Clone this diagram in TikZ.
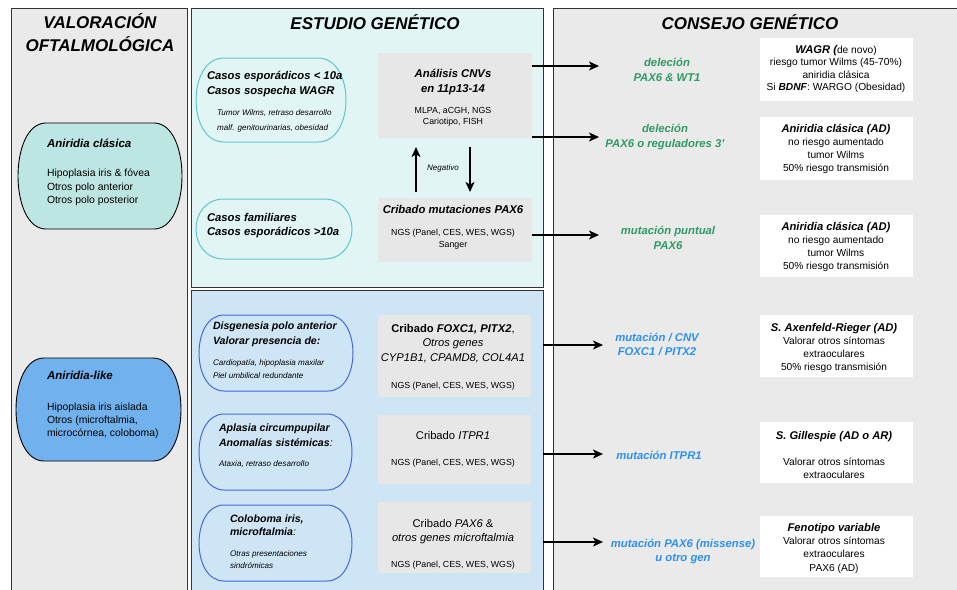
\documentclass[tikz,border=0pt]{standalone}
\usepackage{fontspec}
\setmainfont{Liberation Sans}
\usetikzlibrary{arrows.meta,calc}

\definecolor{panelgray}{HTML}{EAEAEA}
\definecolor{paneltop}{HTML}{E2F5F5}
\definecolor{panelbot}{HTML}{CEE5F6}
\definecolor{boxgray}{HTML}{E7E7E7}
\definecolor{tealfill}{HTML}{BDE5E2}
\definecolor{bluefill}{HTML}{71B2EE}
\definecolor{cyanline}{HTML}{5CC6D0}
\definecolor{blueline}{HTML}{4766DC}
\definecolor{greentxt}{HTML}{2E9A64}
\definecolor{bluetxt}{HTML}{2D90F0}
\definecolor{border}{HTML}{333333}

\newcommand\mystad[3][]{%
  \path[#1] ($(#2.north west)+(#3,0)$) -- ($(#2.north east)+(-#3,0)$)
    .. controls ($(#2.north east)+(#3/3,0)$) and ($(#2.south east)+(#3/3,0)$) .. ($(#2.south east)+(-#3,0)$)
    -- ($(#2.south west)+(#3,0)$)
    .. controls ($(#2.south west)+(-#3/3,0)$) and ($(#2.north west)+(-#3/3,0)$) .. ($(#2.north west)+(#3,0)$) -- cycle;}

\tikzset{
  boxn/.style={inner sep=0pt, outer sep=0pt, anchor=north west},
  panel/.style={boxn, draw=border, line width=1pt},
  ctxt/.style={inner sep=0pt, outer sep=0pt, anchor=base, align=center},
  ltxt/.style={inner sep=0pt, outer sep=0pt, anchor=base west, align=left},
  ttl/.style={font=\fontsize{17}{23}\selectfont\bfseries\itshape},
  hb/.style={font=\fontsize{11.3}{15}\selectfont\bfseries\itshape},
  smi/.style={font=\fontsize{8.1}{15}\selectfont\itshape},
  ngs/.style={font=\fontsize{8.8}{11.5}\selectfont},
  rb/.style={font=\fontsize{10.2}{13}\selectfont},
  arr/.style={line width=1.1pt, -{Stealth[length=10pt,width=9pt,inset=2.5pt]}},
}

\begin{document}
\begin{tikzpicture}[x=1pt,y=-1pt]
\clip (0,0) rectangle (957,589);
\fill[white] (0,0) rectangle (957,589);

% multi-line text nodes are placed at the baseline of their LAST line

% ---------------- panels
\node[panel, fill=panelgray, minimum width=176pt, minimum height=600pt] (pleft) at (11,8) {};
\node[panel, fill=paneltop, minimum width=352pt, minimum height=279pt] (ptop) at (191,8) {};
\node[panel, fill=panelbot, minimum width=352pt, minimum height=310pt] (pbot) at (191,290) {};
\node[panel, fill=panelgray, minimum width=450pt, minimum height=600pt] (pright) at (553,8) {};

\node[ctxt, ttl] (tleft) at (100,51) {VALORACIÓN\\OFTALMOLÓGICA};
\node[ctxt, ttl] (tmid) at (375,29) {ESTUDIO GENÉTICO};
\node[ctxt, ttl] (tright) at (750,29) {CONSEJO GENÉTICO};

% ---------------- left column
\node[boxn, minimum width=164pt, minimum height=106pt] (acl) at (18,123) {};
\mystad[fill=tealfill, draw=black, line width=0.9pt]{acl}{28}
\node[ltxt, font=\fontsize{11.5}{15}\selectfont\bfseries\itshape] (aclt) at (47,147) {Aniridia clásica};
\node[ltxt, font=\fontsize{10.4}{13.5}\selectfont] (aclb) at (47,203.5) {Hipoplasia iris \& fóvea\\Otros polo anterior\\Otros polo posterior};

\node[boxn, minimum width=165pt, minimum height=103pt] (alk) at (16,358) {};
\mystad[fill=bluefill, draw=black, line width=0.9pt]{alk}{28}
\node[ltxt, font=\fontsize{11.5}{15}\selectfont\bfseries\itshape] (alkt) at (47,379) {Aniridia-like};
\node[ltxt, font=\fontsize{10.4}{13}\selectfont] (alkb) at (47,436) {Hipoplasia iris aislada\\Otros (microftalmia,\\microcórnea, coloboma)};

% ---------------- middle top
\node[boxn, minimum width=150pt, minimum height=84pt] (cas1) at (196,58) {};
\mystad[draw=cyanline, line width=1pt]{cas1}{28}
\node[ltxt, hb] (cas1t) at (207,94) {Casos esporádicos < 10a\\Casos sospecha WAGR};
\node[ltxt, smi] (cas1s) at (217,130) {Tumor Wilms, retraso desarrollo\\malf. genitourinarias, obesidad};

\node[boxn, minimum width=156pt, minimum height=60pt] (cas2) at (196,199) {};
\mystad[draw=cyanline, line width=1pt]{cas2}{28}
\node[ltxt, font=\fontsize{11.3}{14}\selectfont\bfseries\itshape] (cas2t) at (207,235) {Casos familiares\\Casos esporádicos >10a};

\node[boxn, fill=boxgray, minimum width=154pt, minimum height=85pt] (cnv) at (378,53) {};
\node[ctxt, hb] (cnvt) at (453,92) {Análisis CNVs\\en 11p13-14};
\node[ctxt, ngs] (cnvs) at (453,124.5) {MLPA, aCGH, NGS\\Cariotipo, FISH};

\node[boxn, fill=boxgray, minimum width=154pt, minimum height=64pt] (pax) at (378,198) {};
\node[ctxt, hb] (paxt) at (453,213) {Cribado mutaciones PAX6};
\node[ctxt, font=\fontsize{8.8}{12}\selectfont] (paxs) at (453,247) {NGS (Panel, CES, WES, WGS)\\Sanger};

\coordinate (ux) at (416,0);
\coordinate (dx) at (470,0);
\draw[arr] ([yshift=6pt]pax.north -| ux) -- ([yshift=-9pt]cnv.south -| ux);
\draw[arr] ([yshift=-9pt]cnv.south -| dx) -- ([yshift=6pt]pax.north -| dx);
\node[ctxt, font=\fontsize{8}{10}\selectfont\itshape] (neg) at (443,170) {Negativo};

% ---------------- middle bottom
\node[boxn, minimum width=154pt, minimum height=76pt] (dis) at (199,315) {};
\mystad[draw=blueline, line width=1pt]{dis}{25}
\node[ltxt, font=\fontsize{10.6}{15}\selectfont\bfseries\itshape] (dist) at (213,344) {Disgenesia polo anterior\\Valorar presencia de:};
\node[ltxt, font=\fontsize{8.1}{13}\selectfont\itshape] (diss) at (213,378) {Cardiopatía, hipoplasia maxilar\\Piel umbilical redundante};

\node[boxn, minimum width=153pt, minimum height=76pt] (apl) at (199,414) {};
\mystad[draw=blueline, line width=1pt]{apl}{25}
\node[ltxt, font=\fontsize{10.6}{15}\selectfont\bfseries\itshape] (aplt) at (219,446) {Aplasia circumpupilar\\Anomalías sistémicas\textmd{:}};
\node[ltxt, font=\fontsize{8.1}{13}\selectfont\itshape] (apls) at (219,466) {Ataxia, retraso desarrollo};

\node[boxn, minimum width=153pt, minimum height=76pt] (col) at (199,505) {};
\mystad[draw=blueline, line width=1pt]{col}{25}
\node[ltxt, font=\fontsize{10.6}{13.5}\selectfont\bfseries\itshape] (colt) at (230,535.5) {Coloboma iris,\\microftalmia\textmd{:}};
\node[ltxt, font=\fontsize{8.1}{12}\selectfont\itshape] (cols) at (230,568) {Otras presentaciones\\sindrómicas};

\node[boxn, fill=boxgray, minimum width=153pt, minimum height=82pt] (gA) at (378,315) {};
\node[ctxt, font=\fontsize{11.2}{14.5}\selectfont] (gAt) at (453,361) {\textbf{Cribado \textit{FOXC1, PITX2}},\\\textit{Otros genes}\\\textit{CYP1B1, CPAMD8, COL4A1}};
\node[ctxt, ngs] (gAs) at (453,388) {NGS (Panel, CES, WES, WGS)};

\node[boxn, fill=boxgray, minimum width=153pt, minimum height=69pt] (gB) at (378,415) {};
\node[ctxt, font=\fontsize{11.2}{14}\selectfont] (gBt) at (453,439) {Cribado \textit{ITPR1}};
\node[ctxt, ngs] (gBs) at (453,465) {NGS (Panel, CES, WES, WGS)};

\node[boxn, fill=boxgray, minimum width=153pt, minimum height=71pt] (gC) at (378,502) {};
\node[ctxt, font=\fontsize{11.2}{14}\selectfont] (gCt) at (453,541) {Cribado \textit{PAX6} \&\\\textit{otros genes microftalmia}};
\node[ctxt, ngs] (gCs) at (453,567) {NGS (Panel, CES, WES, WGS)};

% ---------------- arrows to the right
\coordinate (e1) at (599,66);
\coordinate (e2) at (599,137);
\coordinate (e3) at (599,235);
\coordinate (e4) at (603,345);
\coordinate (e5) at (603,454);
\coordinate (e6) at (603,542);
\draw[arr] (cnv.east |- e1) -- (e1);
\draw[arr] (cnv.east |- e2) -- (e2);
\draw[arr] (pax.east |- e3) -- (e3);
\draw[arr] (pbot.east |- e4) -- (e4);
\draw[arr] (pbot.east |- e5) -- (e5);
\draw[arr] (pbot.east |- e6) -- (e6);

% ---------------- right column labels
\node[ctxt, hb, text=greentxt] (r1) at (667,81) {deleción\\PAX6 \& WT1};
\node[ctxt, hb, text=greentxt] (r2) at (665,147) {deleción\\PAX6 o reguladores 3’};
\node[ctxt, hb, text=greentxt] (r3) at (668,249) {mutación puntual\\PAX6};
\node[ctxt, font=\fontsize{11.3}{14}\selectfont\bfseries\itshape, text=bluetxt] (r4) at (657,355) {mutación / CNV\\FOXC1 / PITX2};
\node[ctxt, hb, text=bluetxt] (r5) at (659,459) {mutación ITPR1};
\node[ctxt, font=\fontsize{11.3}{14}\selectfont\bfseries\itshape, text=bluetxt] (r6) at (683,561) {mutación PAX6 (missense)\\u otro gen};

% ---------------- white boxes
\node[boxn, fill=white, minimum width=153pt, minimum height=63pt] (w1) at (760,38) {};
\node[ctxt, font=\fontsize{10.2}{12.5}\selectfont] (w1t) at (836,90.5) {{\fontsize{11.2}{12.5}\selectfont\bfseries\itshape WAGR (}de novo)\\riesgo tumor Wilms (45-70\%)\\aniridia clásica\\Si \textbf{\textit{BDNF}}: WARGO (Obesidad)};

\node[boxn, fill=white, minimum width=153pt, minimum height=63pt] (w2) at (760,117) {};
\node[ctxt, rb] (w2t) at (836,171) {{\fontsize{11.2}{13}\selectfont\bfseries\itshape Aniridia clásica (AD)}\\no riesgo aumentado\\tumor Wilms\\50\% riesgo transmisión};

\node[boxn, fill=white, minimum width=153pt, minimum height=62pt] (w3) at (760,215) {};
\node[ctxt, rb] (w3t) at (836,269) {{\fontsize{11.2}{13}\selectfont\bfseries\itshape Aniridia clásica (AD)}\\no riesgo aumentado\\tumor Wilms\\50\% riesgo transmisión};

\node[boxn, fill=white, minimum width=153pt, minimum height=62pt] (w4) at (760,315) {};
\node[ctxt, rb] (w4t) at (834,370) {{\fontsize{11.2}{13}\selectfont\bfseries\itshape S. Axenfeld-Rieger (AD)}\\Valorar otros síntomas\\extraoculares\\50\% riesgo transmisión};

\node[boxn, fill=white, minimum width=153pt, minimum height=61pt] (w5) at (760,422) {};
\node[ctxt, font=\fontsize{11.2}{13}\selectfont\bfseries\itshape] (w5t) at (834,439) {S. Gillespie (AD o AR)};
\node[ctxt, font=\fontsize{10.2}{12.5}\selectfont] (w5b) at (834,478) {Valorar otros síntomas\\extraoculares};

\node[boxn, fill=white, minimum width=153pt, minimum height=61pt] (w6) at (760,516) {};
\node[ctxt, font=\fontsize{10.2}{13.3}\selectfont] (w6t) at (834,571) {{\fontsize{11.2}{13}\selectfont\bfseries\itshape Fenotipo variable}\\Valorar otros síntomas\\extraoculares\\PAX6 (AD)};
\end{tikzpicture}
\end{document}
